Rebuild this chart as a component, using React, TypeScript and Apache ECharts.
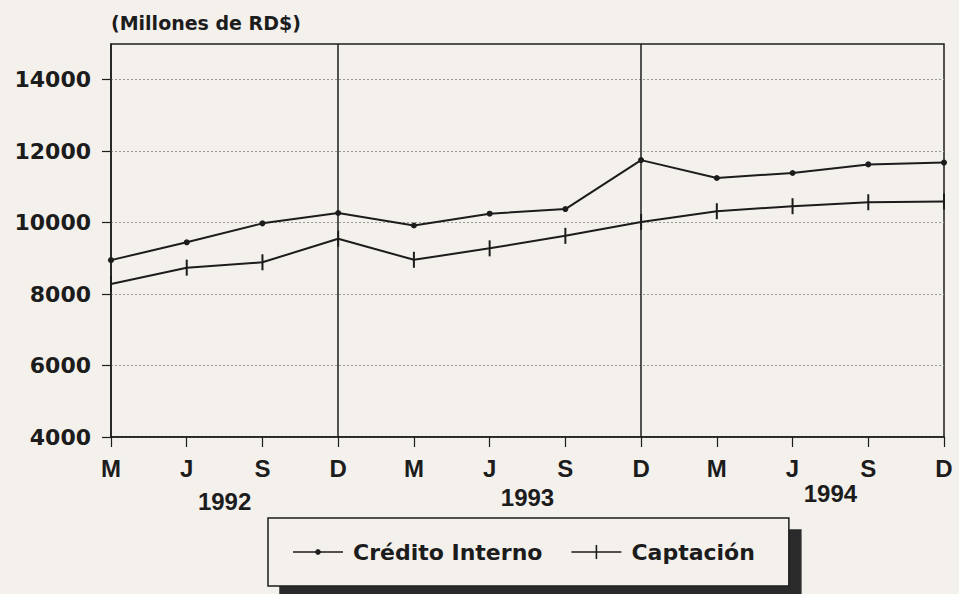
import React, { useEffect, useRef } from "react";
import * as echarts from "echarts";

const months = ["M", "J", "S", "D", "M", "J", "S", "D", "M", "J", "S", "D"];
const years = ["1992", "1993", "1994"];
const yearStartIndex = [0, 4, 8];
const creditoInterno = [8950, 9450, 9980, 10270, 9920, 10250, 10380, 11750, 11250, 11390, 11630, 11680];
const captacion = [8280, 8740, 8890, 9550, 8960, 9280, 9630, 10020, 10320, 10460, 10570, 10590];
const yTicks = [4000, 6000, 8000, 10000, 12000, 14000];
const yearDividers = [3, 7];
const seriesNames = ["Crédito Interno", "Captación"];

const INK = "#1c1c1c";
const BG = "#f4f1ec";
const DV = "'DejaVu Sans', sans-serif";
const LIB = "'Liberation Sans', Arial, sans-serif";

const ICON_DOT =
  "path://M0,7.2 L50,7.2 L50,8.8 L0,8.8 Z M23.9,5.3 L26.1,5.3 L27.7,6.9 L27.7,9.1 L26.1,10.7 L23.9,10.7 L22.3,9.1 L22.3,6.9 Z";
const ICON_CROSS =
  "path://M0,7.2 L50,7.2 L50,8.8 L0,8.8 Z M24.2,1 L25.8,1 L25.8,15 L24.2,15 Z";

export default function App() {
  const ref = useRef<HTMLDivElement>(null);
  useEffect(() => {
    if (!ref.current) return;
    const chart = echarts.init(ref.current, undefined, { renderer: "svg" });
    chart.setOption({
      animation: false,
      backgroundColor: BG,
      title: {
        text: "(Millones de RD$)",
        left: 106,
        top: 8,
        textStyle: { fontFamily: DV, fontWeight: "bold", fontSize: 19, color: INK },
      },
      grid: {
        left: 111,
        right: 15,
        top: 44,
        bottom: 157,
        show: true,
        borderColor: INK,
        borderWidth: 1.5,
        backgroundColor: "transparent",
      },
      xAxis: {
        type: "category",
        data: months,
        boundaryGap: false,
        axisLine: { lineStyle: { color: INK, width: 1.5 } },
        axisTick: { show: true, inside: false, length: 10, lineStyle: { color: INK, width: 1.2 } },
        axisLabel: {
          interval: 0,
          margin: 19,
          color: INK,
          fontFamily: LIB,
          fontWeight: "bold",
          fontSize: 24,
        },
        splitLine: { show: false },
      },
      yAxis: {
        type: "value",
        min: 4000,
        max: 15000,
        interval: 1000,
        axisLine: { show: true, lineStyle: { color: INK, width: 1.5 } },
        axisTick: {
          show: true,
          length: 9,
          customValues: yTicks,
          lineStyle: { color: INK, width: 1.2 },
        },
        axisLabel: {
          customValues: yTicks,
          margin: 20,
          color: INK,
          fontFamily: DV,
          fontWeight: "bold",
          fontSize: 22,
          formatter: (v: number) => String(v),
        },
        splitLine: {
          show: true,
          lineStyle: { color: "#9a9894", type: [2, 2], width: 1 },
        },
      },
      legend: {
        left: 268,
        top: 518,
        orient: "horizontal",
        padding: [23, 34, 23, 25],
        itemWidth: 50,
        itemHeight: 16,
        itemGap: 29,
        backgroundColor: BG,
        borderColor: INK,
        borderWidth: 1.5,
        shadowColor: "#2b2b2b",
        shadowBlur: 0,
        shadowOffsetX: 12,
        shadowOffsetY: 12,
        textStyle: {
          fontFamily: DV,
          fontWeight: "bold",
          fontSize: 22,
          color: INK,
          padding: [0, 0, 0, 5],
        },
        data: [
          { name: seriesNames[0], icon: ICON_DOT },
          { name: seriesNames[1], icon: ICON_CROSS },
        ],
      },
      series: [
        {
          name: seriesNames[0],
          type: "line",
          data: creditoInterno,
          symbol: "circle",
          symbolSize: 6,
          lineStyle: { color: INK, width: 2 },
          itemStyle: { color: INK },
          markLine: {
            silent: true,
            symbol: "none",
            label: { show: false },
            lineStyle: { color: INK, width: 1.5, type: "solid" },
            data: yearDividers.map((i) => ({ xAxis: i })),
          },
          z: 3,
        },
        {
          name: seriesNames[1],
          type: "line",
          data: captacion,
          symbol: "path://M0,0 L1,0 L1,9 L0,9 Z",
          symbolSize: [2, 16],
          symbolKeepAspect: false,
          lineStyle: { color: INK, width: 2 },
          itemStyle: { color: INK },
          z: 3,
        },
      ],
    });

    const yearYs = [501, 497, 493];
    const graphics = years.map((yr, k) => {
      const s = yearStartIndex[k];
      const p1 = chart.convertToPixel({ xAxisIndex: 0 }, s + 1) as unknown as number;
      const p2 = chart.convertToPixel({ xAxisIndex: 0 }, s + 2) as unknown as number;
      return {
        type: "text",
        x: (p1 + p2) / 2,
        y: yearYs[k],
        style: {
          text: yr,
          fill: INK,
          font: `bold 24px ${LIB}`,
          textAlign: "center",
          textVerticalAlign: "middle",
        },
      };
    });
    chart.setOption({ graphic: graphics });

    return () => chart.dispose();
  }, []);

  return (
    <div
      ref={ref}
      style={{ position: "fixed", left: 0, top: 0, width: 959, height: 594, background: BG }}
    />
  );
}
